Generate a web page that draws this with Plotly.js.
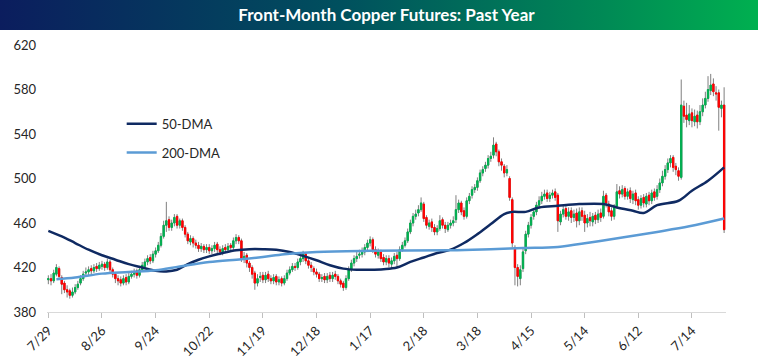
<!DOCTYPE html>
<html>
<head>
<meta charset="utf-8">
<script src="https://cdn.plot.ly/plotly-3.0.1.min.js"></script>
<style>
  html, body { margin: 0; padding: 0; background: #ffffff; }
  #wrap { position: relative; width: 758px; height: 361px; overflow: hidden; }
  #bar { position: absolute; left: 0; top: 0; width: 758px; height: 30px;
         background: linear-gradient(to right, #0b1d5e 0%, #00505e 45%, #008a55 80%, #00b050 100%); }
  #chart { position: absolute; left: 0; top: 0; width: 758px; height: 361px; }
</style>
</head>
<body>
<div id="wrap">
  <div id="bar"></div>
  <div id="chart"></div>
</div>
<script>
// Trading-day tick labels (every 20 sessions, starting 7/29)
const tickIdx = [0, 20, 40, 60, 80, 100, 120, 140, 160, 180, 200, 220, 240];
const tickLabels = ['7/29', '8/26', '9/24', '10/22', '11/19', '12/18', '1/17', '2/18', '3/18', '4/15', '5/14', '6/12', '7/14'];

// Daily OHLC (cents per lb)
const openP = [
  409, 410, 408, 414, 419, 411, 406, 400, 399, 395,
  398, 402, 406, 410, 415, 416, 419, 417, 421, 419,
  421, 423, 420, 425, 418, 414, 410, 409, 406, 411,
  407, 412, 414, 417, 413, 418, 421, 425, 429, 426,
  432, 435, 440, 448, 458, 463, 456, 460, 466, 458,
  462, 456, 450, 443, 446, 442, 440, 437, 439, 436,
  438, 435, 437, 441, 436, 434, 438, 436, 440, 438,
  444, 447, 444, 428, 431, 424, 420, 415, 406, 411,
  413, 409, 414, 410, 408, 412, 407, 410, 406, 410,
  415, 418, 421, 420, 425, 428, 432, 426, 422, 419,
  416, 414, 410, 412, 409, 413, 410, 414, 412, 408,
  406, 402, 410, 418, 424, 428, 431, 432, 434, 438,
  442, 445, 436, 431, 434, 429, 425, 428, 423, 426,
  431, 428, 436, 440, 444, 452, 460, 466, 469, 472,
  477, 465, 457, 461, 456, 452, 455, 463, 458, 454,
  458, 460, 463, 472, 478, 471, 466, 480, 485, 490,
  492, 498, 505, 509, 512, 518, 521, 531, 524, 515,
  511, 505, 500, 481, 438, 420, 410, 419, 435, 450,
  458, 466, 470, 476, 480, 484, 487, 482, 485, 488,
  485, 461, 468, 473, 466, 471, 465, 469, 462, 471,
  467, 460, 465, 461, 467, 463, 469, 466, 485, 477,
  471, 466, 475, 489, 486, 491, 484, 489, 481, 487,
  481, 476, 483, 477, 485, 480, 488, 484, 490, 496,
  502, 508, 514, 519, 511, 507, 501, 565, 557, 552,
  559, 551, 557, 551, 560, 566, 572, 579, 585, 577,
  577, 563, 566
];
const highP = [
  413, 414, 418, 423, 421, 413, 408, 404, 401, 402,
  405, 408, 413, 417, 420, 421, 422, 423, 424, 425,
  426, 425, 428, 427, 420, 416, 413, 412, 413, 414,
  415, 417, 419, 419, 421, 425, 428, 431, 432, 435,
  438, 443, 451, 462, 479, 466, 463, 468, 468, 464,
  464, 458, 452, 449, 448, 445, 443, 442, 441, 441,
  441, 440, 443, 443, 439, 440, 441, 442, 442, 447,
  450, 449, 446, 434, 433, 426, 422, 417, 414, 416,
  416, 416, 417, 413, 414, 414, 412, 412, 413, 418,
  421, 424, 424, 428, 431, 435, 434, 428, 425, 421,
  419, 416, 414, 415, 415, 416, 416, 417, 414, 410,
  408, 413, 421, 427, 431, 434, 436, 438, 441, 445,
  448, 447, 439, 437, 436, 432, 431, 431, 429, 433,
  434, 439, 443, 447, 455, 463, 469, 472, 476, 483,
  479, 467, 463, 464, 459, 458, 467, 465, 461, 461,
  463, 466, 485, 481, 480, 474, 483, 487, 493, 495,
  501, 508, 511, 515, 521, 524, 537, 533, 526, 518,
  513, 512, 502, 483, 440, 423, 422, 437, 453, 461,
  468, 473, 479, 484, 488, 490, 490, 488, 490, 491,
  487, 471, 476, 476, 474, 474, 472, 473, 474, 474,
  471, 468, 470, 469, 470, 472, 473, 489, 487, 480,
  474, 477, 495, 493, 494, 493, 491, 492, 489, 490,
  484, 485, 486, 487, 488, 490, 491, 494, 500, 507,
  512, 518, 521, 521, 514, 510, 589, 570, 568, 566,
  563, 562, 561, 566, 572, 578, 592, 594, 590, 583,
  580, 570, 582
];
const lowP = [
  405, 404, 406, 412, 410, 396, 397, 393, 392, 393,
  396, 400, 404, 408, 412, 413, 414, 415, 416, 417,
  418, 417, 418, 416, 411, 406, 404, 403, 404, 404,
  405, 410, 411, 410, 411, 416, 419, 422, 423, 424,
  429, 433, 438, 446, 452, 453, 453, 457, 455, 455,
  453, 447, 441, 440, 438, 437, 434, 434, 433, 433,
  432, 432, 434, 433, 431, 431, 433, 433, 435, 436,
  441, 441, 425, 424, 420, 416, 410, 400, 403, 407,
  406, 406, 407, 405, 405, 404, 404, 403, 404, 408,
  413, 416, 417, 418, 422, 425, 423, 419, 416, 413,
  411, 407, 407, 406, 406, 407, 407, 409, 405, 402,
  399, 400, 408, 416, 421, 425, 428, 429, 431, 435,
  439, 433, 429, 428, 425, 422, 422, 420, 419, 423,
  420, 426, 434, 438, 442, 450, 457, 463, 466, 470,
  461, 455, 454, 452, 449, 449, 453, 455, 451, 452,
  455, 457, 460, 469, 467, 463, 464, 477, 482, 487,
  489, 496, 502, 506, 509, 515, 518, 520, 511, 507,
  501, 502, 480, 438, 404, 403, 404, 416, 432, 447,
  455, 463, 467, 473, 477, 481, 479, 479, 482, 480,
  452, 458, 465, 463, 462, 460, 461, 456, 458, 462,
  452, 456, 457, 457, 459, 460, 461, 464, 474, 466,
  462, 463, 473, 482, 483, 481, 481, 478, 477, 476,
  472, 473, 474, 474, 476, 477, 480, 481, 487, 493,
  499, 505, 510, 506, 503, 498, 499, 550, 546, 548,
  546, 547, 545, 548, 556, 563, 569, 575, 574, 570,
  543, 555, 451
];
const closeP = [
  410, 408, 415, 420, 412, 405, 400, 398, 395, 398,
  402, 405, 410, 414, 416, 418, 417, 420, 419, 422,
  423, 420, 425, 418, 414, 410, 408, 406, 410, 407,
  412, 414, 416, 413, 418, 422, 425, 428, 426, 432,
  435, 440, 448, 458, 462, 456, 460, 465, 458, 462,
  456, 450, 444, 446, 442, 440, 437, 439, 436, 438,
  435, 437, 440, 436, 434, 437, 436, 439, 438, 444,
  447, 444, 428, 430, 424, 420, 414, 406, 410, 412,
  409, 413, 410, 408, 411, 407, 409, 406, 410, 415,
  418, 421, 420, 425, 428, 432, 426, 422, 420, 416,
  414, 410, 411, 409, 412, 410, 413, 412, 408, 405,
  402, 410, 418, 424, 428, 430, 432, 434, 438, 442,
  445, 436, 432, 434, 428, 425, 428, 424, 426, 430,
  428, 436, 440, 444, 452, 460, 466, 468, 472, 478,
  464, 458, 460, 456, 452, 455, 462, 458, 455, 458,
  460, 462, 472, 478, 470, 466, 480, 484, 490, 492,
  498, 505, 508, 512, 518, 520, 530, 524, 515, 512,
  505, 508, 483, 442, 420, 412, 418, 434, 450, 458,
  465, 470, 476, 480, 484, 486, 482, 485, 487, 483,
  462, 468, 472, 466, 470, 465, 468, 462, 470, 466,
  460, 464, 462, 466, 463, 468, 465, 484, 478, 470,
  466, 474, 488, 486, 490, 484, 488, 482, 486, 480,
  476, 482, 478, 484, 480, 487, 483, 490, 496, 502,
  508, 514, 518, 510, 508, 502, 566, 556, 553, 558,
  552, 556, 551, 560, 566, 572, 580, 584, 578, 576,
  564, 566, 454
];

// Moving averages, read at sampled sessions
const dma50Idx = [0, 5, 10, 15, 20, 25, 30, 35, 40, 44, 48, 52, 56, 60, 65, 70, 75, 80, 85, 90, 95, 100, 105, 110, 115, 120, 125, 130, 135, 140, 145, 150, 155, 160, 165, 170, 173, 178, 183, 190, 198, 207, 212, 218, 222, 227, 235, 240, 246, 252];
const dma50Val = [453, 448, 442, 436, 431, 427, 423, 420, 417, 416.5, 418, 423, 427, 430, 433, 435.5, 436.5, 436.5, 436, 434, 430.5, 426.5, 422, 419, 418, 418, 418.5, 420, 425, 429, 433, 436, 442, 450, 459, 468, 470, 470, 474, 475.5, 477, 477, 474, 471, 469, 476, 480, 489, 498, 510];
const dma200Idx = [3, 10, 20, 30, 40, 49, 60, 72, 80, 88, 100, 120, 150, 165, 177, 190, 202, 214, 227, 239, 252];
const dma200Val = [409.5, 411, 414.5, 416, 417.5, 421, 425, 427.5, 429.5, 432, 434, 435, 435.5, 436.5, 437.5, 438.5, 442.5, 447, 452, 457, 464];

const idx = closeP.map((_, i) => i);
const bodyHigh = closeP.map((c, i) => Math.max(c, openP[i]));
const bodyLow = closeP.map((c, i) => Math.min(c, openP[i]));

const FONT = 'Lato, "Open Sans", "Liberation Sans", sans-serif';
const GREEN = '#00b050', RED = '#ff0000', WICK = '#7f7f7f';

const traces = [
  {
    type: 'candlestick', x: idx, open: openP, high: highP, low: lowP, close: closeP,
    increasing: { line: { color: WICK, width: 1 }, fillcolor: WICK },
    decreasing: { line: { color: WICK, width: 1 }, fillcolor: WICK },
    showlegend: false, hoverinfo: 'skip'
  },
  {
    type: 'candlestick', x: idx, open: openP, high: bodyHigh, low: bodyLow, close: closeP,
    increasing: { line: { color: GREEN, width: 1 }, fillcolor: GREEN },
    decreasing: { line: { color: RED, width: 1 }, fillcolor: RED },
    showlegend: false, hoverinfo: 'skip'
  },
  {
    type: 'scatter', mode: 'lines', name: '50-DMA', x: dma50Idx, y: dma50Val,
    line: { color: '#0f2a62', width: 2.5, shape: 'spline' }, legend: 'legend'
  },
  {
    type: 'scatter', mode: 'lines', name: '200-DMA', x: dma200Idx, y: dma200Val,
    line: { color: '#5b9bd5', width: 2.5, shape: 'spline' }, legend: 'legend2'
  }
];

const layout = {
  width: 758, height: 361,
  paper_bgcolor: 'rgba(0,0,0,0)', plot_bgcolor: '#ffffff',
  margin: { l: 46.7, r: 32.3, t: 44.5, b: 49 },
  font: { family: FONT, size: 13, color: '#262626' },
  title: {
    text: 'Front-Month Copper Futures: Past Year',
    font: { family: FONT, size: 17, color: '#ffffff', weight: 'bold' },
    x: 0.5, xanchor: 'center', xref: 'paper',
    y: 1 - 15 / 361, yref: 'container', yanchor: 'middle'
  },
  xaxis: {
    type: 'linear', range: [-0.5, 252.7],
    tickmode: 'array', tickvals: tickIdx, ticktext: tickLabels, tickangle: -45,
    showgrid: false, zeroline: false,
    showline: true, linecolor: '#d9d9d9', linewidth: 1,
    ticks: 'outside', ticklen: 5, tickcolor: '#bfbfbf',
    tickfont: { family: FONT, size: 13, color: '#262626' },
    rangeslider: { visible: false }, fixedrange: true
  },
  yaxis: {
    range: [380, 620], tickmode: 'array', tickvals: [380, 420, 460, 500, 540, 580, 620],
    showgrid: false, zeroline: false, showline: false, ticks: '',
    ticklabelstandoff: 10,
    tickfont: { family: FONT, size: 13, color: '#262626' }, fixedrange: true
  },
  legend: {
    x: 0.11, y: 0.705, xanchor: 'left', yanchor: 'middle',
    bgcolor: 'rgba(0,0,0,0)', borderwidth: 0, itemwidth: 30,
    font: { family: FONT, size: 13, color: '#262626' }
  },
  legend2: {
    x: 0.11, y: 0.597, xanchor: 'left', yanchor: 'middle',
    bgcolor: 'rgba(0,0,0,0)', borderwidth: 0, itemwidth: 30,
    font: { family: FONT, size: 13, color: '#262626' }
  },
  showlegend: true
};

Plotly.newPlot('chart', traces, layout, { displayModeBar: false, staticPlot: true });
</script>
</body>
</html>
